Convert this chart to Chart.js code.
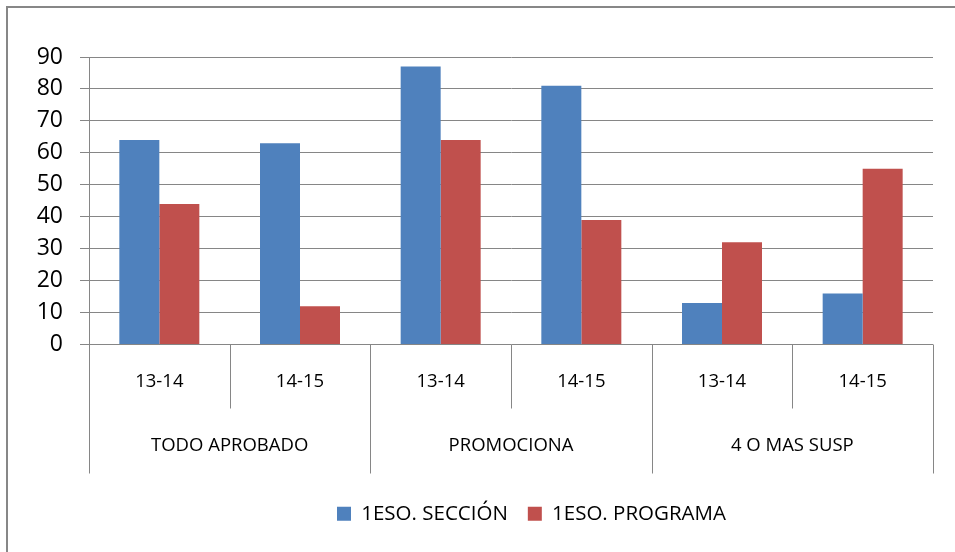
<!DOCTYPE html>
<html lang="es">
<head>
  <meta charset="UTF-8">
  <title>1ESO Sección / Programa</title>
  <script src="https://cdn.jsdelivr.net/npm/chart.js"></script>
  <style>
    html, body {
      margin: 0;
      padding: 0;
      background: #fff;
      overflow: hidden;
    }
    .wrap {
      position: relative;
      width: 955px;
      height: 552px;
    }
    .frame {
      position: absolute;
      left: 6px;
      top: 6px;
      width: 1000px;
      height: 600px;
      border: 2px solid #878787;
    }
    canvas {
      position: absolute;
      left: 0;
      top: 0;
    }
  </style>
</head>
<body>
  <div class="wrap">
    <div class="frame"></div>
    <canvas id="chart" width="955" height="552"></canvas>
  </div>

  <script>
    const groups = ['TODO APROBADO', 'PROMOCIONA', '4 O MAS SUSP'];
    const years = ['13-14', '14-15'];
    const seccion = [64, 63, 87, 81, 13, 16];
    const programa = [44, 12, 64, 39, 32, 55];
    const yTicks = [0, 10, 20, 30, 40, 50, 60, 70, 80, 90];

    const subLabels = groups.flatMap(() => years);
    const lineColor = '#868686';
    const fontFamily = "'Open Sans', sans-serif";
    const legendStartX = 337;

    // two-level category axis (years under groups), drawn from the x scale
    const groupAxis = {
      id: 'groupAxis',
      afterDraw(chart) {
        const { ctx, scales: { x, y } } = chart;
        const top = y.bottom;
        const mid = top + 64;
        const bot = top + 129;
        const n = subLabels.length;
        const per = years.length;
        const edge = i => i === 0 ? x.left : i === n ? x.right
          : (x.getPixelForValue(i - 1) + x.getPixelForValue(i)) / 2;

        ctx.save();
        ctx.strokeStyle = lineColor;
        ctx.lineWidth = 1;
        for (let i = 0; i <= n; i++) {
          const px = Math.round(edge(i)) + 0.5;
          ctx.beginPath();
          ctx.moveTo(px, top);
          ctx.lineTo(px, i % per === 0 ? bot : mid);
          ctx.stroke();
        }

        ctx.fillStyle = '#000';
        ctx.textAlign = 'center';
        ctx.textBaseline = 'middle';
        ctx.font = '18.5px ' + fontFamily;
        subLabels.forEach((lab, i) => {
          ctx.fillText(lab, x.getPixelForValue(i), top + 37);
        });
        groups.forEach((g, k) => {
          const cx = (edge(k * per) + edge((k + 1) * per)) / 2;
          ctx.fillText(g, cx, top + 101);
        });
        ctx.restore();
      }
    };

    // the legend sits right of centre in the original
    const shiftLegend = {
      id: 'shiftLegend',
      afterLayout(chart) {
        const lg = chart.legend;
        if (!lg || !lg.lineWidths) return;
        const pad = lg.options.labels.padding;
        const startX = (lg.left + pad + lg.right - lg.lineWidths[0]) / 2;
        const dx = legendStartX - startX;
        lg.left += dx;
        lg.right += dx;
      }
    };

    new Chart(document.getElementById('chart'), {
      type: 'bar',
      data: {
        labels: subLabels,
        datasets: [
          {
            label: '1ESO. SECCIÓN',
            data: seccion,
            backgroundColor: '#4F81BD',
            borderWidth: 0
          },
          {
            label: '1ESO. PROGRAMA',
            data: programa,
            backgroundColor: '#C0504D',
            borderWidth: 0
          }
        ]
      },
      options: {
        responsive: false,
        animation: false,
        events: [],
        categoryPercentage: 0.5687,
        barPercentage: 1,
        layout: {
          padding: { top: 57, right: 22, bottom: 18, left: 0 }
        },
        plugins: {
          tooltip: { enabled: false },
          legend: {
            position: 'bottom',
            labels: {
              boxWidth: 14,
              boxHeight: 14,
              padding: 20,
              color: '#000',
              font: { family: fontFamily, size: 20.5 }
            }
          }
        },
        scales: {
          x: {
            grid: { display: false },
            border: { display: false },
            ticks: { display: false },
            afterFit: s => { s.height = 139; }
          },
          y: {
            min: yTicks[0],
            max: yTicks[yTicks.length - 1],
            afterBuildTicks: s => { s.ticks = yTicks.map(v => ({ value: v })); },
            grid: { color: lineColor, tickLength: 9, lineWidth: 1 },
            border: { color: lineColor, width: 1 },
            ticks: {
              color: '#000',
              padding: 17,
              font: { family: fontFamily, size: 23 }
            },
            afterFit: s => { s.width = 89; }
          }
        }
      },
      plugins: [groupAxis, shiftLegend]
    });
  </script>
</body>
</html>
